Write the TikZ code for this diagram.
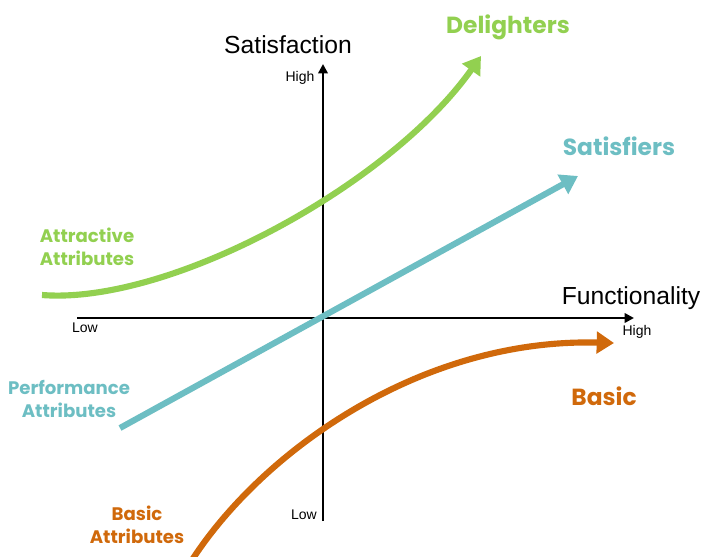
\documentclass[tikz,border=0pt]{standalone}
\usepackage{fontspec}
\setmainfont{Liberation Sans}
\newfontfamily\comicf{Poppins}
\usetikzlibrary{arrows.meta}
\definecolor{cgreen}{HTML}{92D050}
\definecolor{cteal}{HTML}{6DBEC3}
\definecolor{corange}{HTML}{D0690B}
\tikzset{
  axisline/.style={line width=2.2pt, -{Triangle[length=7pt,width=7pt]}},
  curveline/.style={line width=4.6pt, line cap=butt, -{Triangle[length=13pt,width=16pt]}},
  axlabel/.style={font=\fontsize{18.5}{20}\selectfont, inner sep=0pt},
  ticklabel/.style={font=\fontsize{10.5}{12}\selectfont, inner sep=0pt},
  biglabel/.style={font=\comicf\bfseries\fontsize{17.5}{20}\selectfont, inner sep=0pt},
  smalllabel/.style={font=\comicf\bfseries\fontsize{13.6}{17.5}\selectfont, inner sep=0pt, align=center},
}
\begin{document}
\begin{tikzpicture}[x=0.75pt,y=-0.75pt]
\useasboundingbox (0,0) rectangle (716,556);
% axes
\coordinate (xs) at (77,318);
\coordinate (xe) at (634,318);
\coordinate (ys) at (323,521);
\coordinate (ye) at (323,64);
\draw[axisline] (xs) -- (xe);
\draw[axisline] (ys) -- (ye);
% curves
\coordinate (gs) at (42,295);
\coordinate (ge) at (481,56);
\draw[curveline, cgreen] (gs) .. controls (170,305) and (390,185) .. (ge);
\coordinate (ts) at (120,428);
\coordinate (te) at (578,176);
\draw[curveline, cteal] (ts) -- (te);
\coordinate (os) at (192,560);
\coordinate (oe) at (614,343);
\draw[curveline, corange] (os) .. controls (262,452) and (420,338) .. (oe);
% axis labels
\node[axlabel] (sat) at (288,45) {Satisfaction};
\node[axlabel] (fun) at (631,298) {Functionality};
\node[ticklabel] (hy) at (300,78) {High};
\node[ticklabel] (ly) at (304,515) {Low};
\node[ticklabel] (lx) at (85,328) {Low};
\node[ticklabel] (hx) at (637,332) {High};
% category labels
\node[biglabel, cgreen] (del) at (508,27) {Delighters};
\node[biglabel, cteal] (sf) at (619,146) {Satisfiers};
\node[biglabel, corange] (bas) at (604,396) {Basic};
\node[smalllabel, cgreen] (att) at (87,247) {Attractive\\Attributes};
\node[smalllabel, cteal] (perf) at (69,399) {Performance\\Attributes};
\node[smalllabel, corange] (batt) at (137,525) {Basic\\Attributes};
\end{tikzpicture}
\end{document}
